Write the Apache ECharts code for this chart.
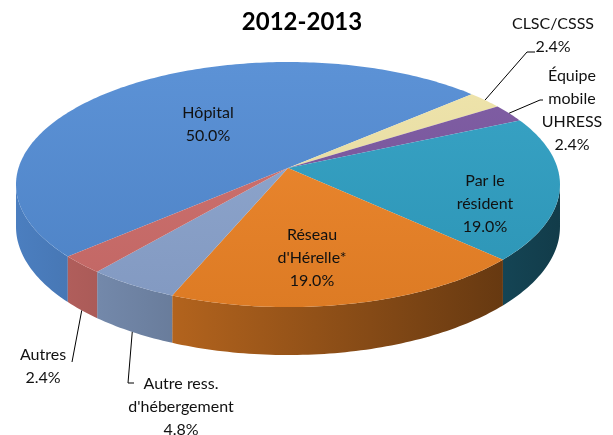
<!DOCTYPE html>
<html>
<head>
<meta charset="utf-8">
<script src="https://cdn.jsdelivr.net/npm/echarts@6/dist/echarts.min.js"></script>
<style>
    html, body { margin: 0; padding: 0; background: #fff; }
    #main { width: 613px; height: 435px; }
</style>
</head>
<body>
<div id="main"></div>
<script>
    // data
    var categories = ['Hôpital', 'CLSC/CSSS', 'Équipe mobile UHRESS', 'Par le résident', "Réseau d'Hérelle*", "Autre ress. d'hébergement", 'Autres'];
    var labelTexts = ['Hôpital', 'CLSC/CSSS', 'Équipe\nmobile\nUHRESS', 'Par le\nrésident', "Réseau\nd'Hérelle*", "Autre ress.\nd'hébergement", 'Autres'];
    var shares = [50.0, 2.4, 2.4, 19.0, 19.0, 4.8, 2.4];
    var title = '2012-2013';

    // styles / layout
    var topColors = ['#538cd4', '#efe4a8', '#7a57a0', '#2f9fc3', '#ee8427', '#8ca5cf', '#cf6e6b'];
    var labelPos = [[208, 124], [553, 35], [572, 110], [485, 204], [312, 258], [181, 407], [43, 366]];
    var leaderBends = [null, [[527, 52], [535, 52]], [[540, 100], [543, 100]], null, null, [[128, 383], [134, 383]], [[72, 362]]];

    var cx = 288, cy = 168, A = 269.5, B = 120.3, k = 0.135, depth = 41.5;
    var startDeg = 138;

    function project(phi, r) {
        var u = r * Math.cos(phi), v = r * Math.sin(phi), w = 1 - k * v;
        return [cx + A * u / w, cy + B * v / w];
    }
    function drop(phi) {
        return depth / (1 - k * Math.sin(phi));
    }
    function hex(c) {
        return [parseInt(c.substr(1, 2), 16), parseInt(c.substr(3, 2), 16), parseInt(c.substr(5, 2), 16)];
    }
    function mix(c, to, t) {
        var a = hex(c), b = hex(to);
        return 'rgb(' + a.map(function (x, i) { return Math.round(x + (b[i] - x) * t); }).join(',') + ')';
    }
    function arc(a0, a1, r) {
        var pts = [];
        var n = Math.max(2, Math.ceil((a1 - a0) / (Math.PI / 180)) + 1);
        for (var i = 0; i < n; i++) {
            pts.push(project(a0 + (a1 - a0) * i / (n - 1), r));
        }
        return pts;
    }

    var total = shares.reduce(function (s, v) { return s + v; }, 0);
    var angles = [];
    var acc = startDeg;
    shares.forEach(function (v) {
        var a0 = acc;
        acc += v / total * 360;
        angles.push([a0 * Math.PI / 180, acc * Math.PI / 180]);
    });

    var lo = Math.asin(k), hi = Math.PI - Math.asin(k);
    function frontParts(a0, a1) {
        var parts = [];
        [-2, 0, 2, 4].forEach(function (m) {
            var s = Math.max(a0, lo + m * Math.PI), e = Math.min(a1, hi + m * Math.PI);
            if (s < e) parts.push([s, e]);
        });
        return parts;
    }
    function inFront(a) {
        return frontParts(a, a + 1e-6).length > 0;
    }

    function renderItem(params, api) {
        var i = params.dataIndex;
        var a0 = angles[i][0], a1 = angles[i][1];
        var col = topColors[i];
        var children = [];

        frontParts(a0, a1).forEach(function (p) {
            var top = arc(p[0], p[1], 1);
            var bottom = arc(p[0], p[1], 1).map(function (pt, j, arr) {
                var phi = p[0] + (p[1] - p[0]) * j / (arr.length - 1);
                return [pt[0], pt[1] + drop(phi)];
            }).reverse();
            children.push({
                type: 'polygon',
                shape: { points: top.concat(bottom) },
                style: {
                    fill: new echarts.graphic.LinearGradient(cx - A, 0, cx + A, 0, [
                        { offset: 0, color: mix(col, '#000000', 0.1) },
                        { offset: 1, color: mix(col, '#000000', 0.62) }
                    ], true)
                }
            });
        });

        children.push({
            type: 'polygon',
            shape: { points: [[cx, cy]].concat(arc(a0, a1, 1)) },
            style: {
                fill: new echarts.graphic.LinearGradient(0, 62, 0, 307, [
                    { offset: 0, color: mix(col, '#ffffff', 0.05) },
                    { offset: 1, color: mix(col, '#000000', 0.07) }
                ], true)
            }
        });

        var bends = leaderBends[i];
        if (bends) {
            var mid = (a0 + a1) / 2;
            var s = project(mid, 1);
            if (inFront(mid)) s = [s[0], s[1] + drop(mid)];
            children.push({
                type: 'polyline',
                shape: { points: [s].concat(bends) },
                style: { stroke: '#000', lineWidth: 1, fill: null },
                z2: 5
            });
        }

        children.push({
            type: 'text',
            x: labelPos[i][0],
            y: labelPos[i][1],
            style: {
                text: labelTexts[i] + '\n' + api.value(0).toFixed(1) + '%',
                fill: '#111',
                fontFamily: 'Lato',
                fontSize: 16,
                lineHeight: 23,
                align: 'center',
                verticalAlign: 'middle'
            },
            z2: 10
        });

        return { type: 'group', children: children };
    }

    var chart = echarts.init(document.getElementById('main'));
    chart.setOption({
        animation: false,
        title: {
            text: title,
            left: 297,
            top: 5,
            textAlign: 'center',
            textStyle: { fontFamily: 'Lato', fontWeight: 'bold', fontSize: 24, color: '#000' }
        },
        series: [{
            type: 'custom',
            coordinateSystem: 'none',
            name: 'Répartition',
            renderItem: renderItem,
            data: shares.map(function (v, i) { return { name: categories[i], value: v }; })
        }]
    });
</script>
</body>
</html>
